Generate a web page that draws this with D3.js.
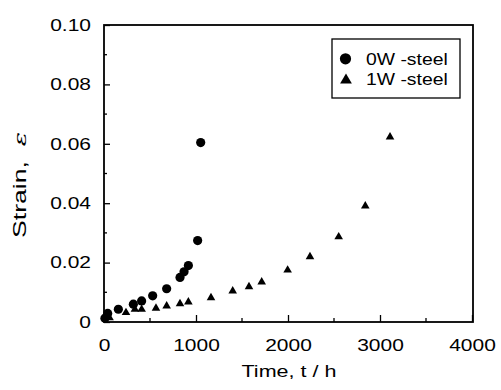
<!DOCTYPE html>
<html><head><meta charset="utf-8">
<script src="https://cdn.jsdelivr.net/npm/d3@7"></script>
<style>body{margin:0;background:#fff}svg{display:block}</style>
</head><body><svg id="c" width="501" height="390"></svg>
<script>
const seriesNames = ["0W -steel", "1W -steel"];
const w0Time   = [10, 40, 156, 319, 409, 529, 681, 826, 870, 917, 1018, 1051];
const w0Strain = [0.0013, 0.0029, 0.0043, 0.0060, 0.0071, 0.0088, 0.0112, 0.0150, 0.0169, 0.0190, 0.0274, 0.0604];
const w1Time   = [60, 239, 336, 409, 565, 681, 826, 917, 1163, 1399, 1576, 1714, 1996, 2239, 2551, 2840, 3109];
const w1Strain = [0.0018, 0.0035, 0.0046, 0.0046, 0.0050, 0.0057, 0.0065, 0.0071, 0.0085, 0.0108, 0.0122, 0.0138, 0.0178, 0.0223, 0.0290, 0.0394, 0.0626];
const xTicks = [0, 1000, 2000, 3000, 4000];
const xTickLabels = ["0", "1000", "2000", "3000", "4000"];
const yTicks = [0, 0.02, 0.04, 0.06, 0.08, 0.10];
const yTickLabels = ["0", "0.02", "0.04", "0.06", "0.08", "0.10"];
const xMinor = [500, 1500, 2500, 3500];
const yMinor = [0.01, 0.03, 0.05, 0.07, 0.09];

const L = 104, R = 472, T = 25, B = 322;
const svg = d3.select("#c");
const font = "'Liberation Sans', Arial, Helvetica, sans-serif";
const x = d3.scaleLinear().domain([0, 4000]).range([L, R]);
const y = d3.scaleLinear().domain([0, 0.10]).range([B, T]);

function stretch(sel, k) {
  sel.each(function() {
    const w = this.getComputedTextLength();
    d3.select(this).attr("textLength", w * k).attr("lengthAdjust", "spacingAndGlyphs");
  });
}

// axes with inward ticks
const xAxis = d3.axisBottom(x).tickValues(xTicks).tickFormat((d,i)=>xTickLabels[i]).tickSizeInner(-7).tickSizeOuter(0).tickPadding(17);
const gx = svg.append("g").attr("transform", `translate(0,${B})`).call(xAxis);
const yAxis = d3.axisLeft(y).tickValues(yTicks).tickFormat((d,i)=>yTickLabels[i]).tickSizeInner(-6).tickSizeOuter(0).tickPadding(13);
const gy = svg.append("g").attr("transform", `translate(${L},0)`).call(yAxis);
[gx, gy].forEach(g => {
  g.select(".domain").remove();
  g.selectAll("line").attr("stroke", "#000").attr("stroke-width", 1.3);
  g.selectAll("text").attr("font-family", font).attr("font-size", 16.5).attr("fill", "#000");
  stretch(g.selectAll("text"), 1.27);
});
// minor ticks
svg.append("g").selectAll("line").data(xMinor).join("line")
  .attr("x1", d=>x(d)).attr("x2", d=>x(d)).attr("y1", B).attr("y2", B-4)
  .attr("stroke", "#000").attr("stroke-width", 1.3);
svg.append("g").selectAll("line").data(yMinor).join("line")
  .attr("x1", L).attr("x2", L+3).attr("y1", d=>y(d)).attr("y2", d=>y(d))
  .attr("stroke", "#000").attr("stroke-width", 1.3);

// frame
svg.append("rect").attr("x", L).attr("y", T).attr("width", R-L+1).attr("height", B-T)
  .attr("fill", "none").attr("stroke", "#000").attr("stroke-width", 1.8);

// axis labels
svg.append("text").attr("x", (L+R)/2 + 1).attr("y", 377).attr("text-anchor", "middle")
  .attr("font-family", font).attr("font-size", 16.5).attr("textLength", 95).attr("lengthAdjust", "spacingAndGlyphs")
  .text("Time, t / h");
svg.append("text").attr("transform", "translate(26,185) rotate(-90)").attr("text-anchor", "middle")
  .attr("font-family", font).attr("font-size", 17.5).attr("xml:space","preserve")
  .attr("textLength", 106).attr("lengthAdjust", "spacingAndGlyphs")
  .html('Strain,  <tspan font-style="italic" font-family="\'DejaVu Serif\', serif">ε</tspan>');

// data
const circ = w0Time.map((t,i)=>({t, s:w0Strain[i]}));
const tri = w1Time.map((t,i)=>({t, s:w1Strain[i]}));
svg.append("g").selectAll("circle").data(circ).join("circle")
  .attr("cx", d=>x(d.t)).attr("cy", d=>y(d.s)).attr("r", 4.6).attr("fill", "#000");
const triSym = d3.symbol().type(d3.symbolTriangle).size(32);
svg.append("g").selectAll("path").data(tri).join("path")
  .attr("transform", d=>`translate(${x(d.t)},${y(d.s) + 1})`).attr("d", triSym).attr("fill", "#000");

// legend
svg.append("rect").attr("x", 332).attr("y", 39).attr("width", 128).attr("height", 59)
  .attr("fill", "#fff").attr("stroke", "#000").attr("stroke-width", 1.3);
svg.append("circle").attr("cx", 345.5).attr("cy", 58.8).attr("r", 5.6).attr("fill", "#000");
svg.append("path").attr("transform", "translate(346,80.2)").attr("d", d3.symbol().type(d3.symbolTriangle).size(60)).attr("fill", "#000");
const lt1 = svg.append("text").attr("x", 366).attr("y", 65).attr("font-family", font).attr("font-size", 16).text(seriesNames[0]);
const lt2 = svg.append("text").attr("x", 366).attr("y", 85).attr("font-family", font).attr("font-size", 16).text(seriesNames[1]);
stretch(lt1, 1.21); stretch(lt2, 1.21);
</script></body></html>
